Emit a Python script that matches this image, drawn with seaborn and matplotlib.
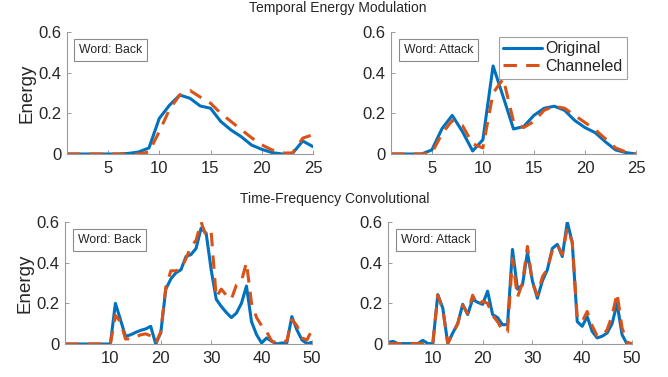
import numpy as np
import pandas as pd
import matplotlib
matplotlib.use("Agg")
import matplotlib.pyplot as plt
import seaborn as sns

# ---------------- data ----------------
t_short = list(range(1, 26))
t_long = list(range(1, 51))

back_temporal_orig = [0, 0, 0, 0, 0, 0, 0.003, 0.01, 0.03, 0.175, 0.24, 0.29, 0.274, 0.236, 0.225,
                      0.16, 0.118, 0.085, 0.044, 0.023, 0.007, 0.0, 0.003, 0.064, 0.036]
back_temporal_chan = [0, 0, 0, 0, 0, 0, 0, 0, 0.01, 0.11, 0.22, 0.29, 0.312, 0.28, 0.25,
                      0.2, 0.16, 0.12, 0.08, 0.045, 0.02, 0.005, 0.005, 0.078, 0.095]

attack_temporal_orig = [0, 0, 0, 0, 0.02, 0.125, 0.19, 0.11, 0.015, 0.07, 0.433, 0.28, 0.123, 0.135, 0.19,
                        0.225, 0.235, 0.215, 0.165, 0.13, 0.105, 0.06, 0.02, 0.007, 0.0]
attack_temporal_chan = [0, 0, 0, 0, 0.005, 0.1, 0.165, 0.14, 0.05, 0.03, 0.30, 0.37, 0.16, 0.13, 0.16,
                        0.215, 0.235, 0.225, 0.19, 0.155, 0.12, 0.075, 0.03, 0.01, 0.0]

back_tf_orig = [0, 0, 0, 0, 0, 0, 0, 0, 0, 0,
                0.2, 0.12, 0.038, 0.045, 0.057, 0.067, 0.074, 0.087, 0.0, 0.055,
                0.27, 0.32, 0.35, 0.365, 0.43, 0.44, 0.47, 0.57, 0.545, 0.365,
                0.22, 0.185, 0.155, 0.13, 0.152, 0.2, 0.285, 0.11, 0.046, 0.005,
                0.03, 0.013, 0.0, 0.005, 0.005, 0.135, 0.07, 0.02, 0.002, 0.008]
back_tf_chan = [0, 0, 0, 0, 0, 0, 0, 0, 0, 0,
                0.14, 0.11, 0.025, 0.025, 0.035, 0.045, 0.05, 0.04, 0.005, 0.06,
                0.28, 0.36, 0.36, 0.37, 0.42, 0.48, 0.51, 0.6, 0.53, 0.55,
                0.23, 0.27, 0.24, 0.22, 0.29, 0.31, 0.4, 0.2, 0.13, 0.09,
                0.06, 0.015, 0.005, 0.01, 0.015, 0.12, 0.09, 0.03, 0.02, 0.07]

attack_tf_orig = [0.008, 0.013, 0.002, 0.002, 0.002, 0.003, 0.002, 0.018, 0.002, 0.002,
                  0.243, 0.177, 0.002, 0.054, 0.1, 0.195, 0.145, 0.22, 0.205, 0.195,
                  0.26, 0.145, 0.13, 0.095, 0.095, 0.465, 0.27, 0.29, 0.45, 0.31,
                  0.225, 0.31, 0.365, 0.47, 0.49, 0.43, 0.6, 0.5, 0.11, 0.087,
                  0.135, 0.062, 0.03, 0.038, 0.054, 0.1, 0.2, 0.046, 0.0, 0.0]
attack_tf_chan = [0.002, 0.002, 0.002, 0.002, 0.002, 0.002, 0.002, 0.002, 0.002, 0.002,
                  0.24, 0.17, 0.005, 0.05, 0.1, 0.19, 0.15, 0.24, 0.19, 0.21,
                  0.2, 0.14, 0.11, 0.065, 0.06, 0.42, 0.23, 0.3, 0.48, 0.3,
                  0.24, 0.33, 0.37, 0.46, 0.49, 0.44, 0.57, 0.5, 0.13, 0.11,
                  0.16, 0.09, 0.04, 0.04, 0.07, 0.14, 0.25, 0.08, 0.01, 0.0]

series_names = ["Original", "Channeled"]
word_labels = ["Word: Back", "Word: Attack", "Word: Back", "Word: Attack"]
row_titles = ["Temporal Energy Modulation", "Time-Frequency Convolutional"]
y_ticks = [0, 0.2, 0.4, 0.6]
y_ticklabels = ["0", "0.2", "0.4", "0.6"]
x_ticks_short = [5, 10, 15, 20, 25]
x_ticks_long = [10, 20, 30, 40, 50]

# ---------------- style ----------------
sns.set_style("ticks")
plt.rcParams["font.family"] = ["Liberation Sans", "DejaVu Sans"]

BLUE = "#0072BD"
ORANGE = "#D95319"
SPINE = "#9a9a9a"
TXT = "#262626"

fig = plt.figure(figsize=(6.68, 3.77), dpi=100)
W, H = 668.0, 377.0

# axes pixel boxes: left, top, right, bottom
boxes = [(67, 32, 313, 154), (391, 32, 636, 154), (65, 222, 312, 344), (388, 222, 632, 344)]
panels = [
    (t_short, back_temporal_orig, back_temporal_chan, x_ticks_short, (1, 25)),
    (t_short, attack_temporal_orig, attack_temporal_chan, x_ticks_short, (1, 25)),
    (t_long, back_tf_orig, back_tf_chan, x_ticks_long, (1, 50)),
    (t_long, attack_tf_orig, attack_tf_chan, x_ticks_long, (1, 50)),
]
word_text_x = [0.049, 0.053, 0.053, 0.053]

axes = []
for i, (box, (t, yo, yc, xt, xl)) in enumerate(zip(boxes, panels)):
    l, tp, r, b = box
    ax = fig.add_axes([l / W, 1 - b / H, (r - l) / W, (b - tp) / H])
    axes.append(ax)
    df = pd.DataFrame({
        "t": list(t) * 2,
        "energy": list(yo) + list(yc),
        "series": [series_names[0]] * len(t) + [series_names[1]] * len(t),
    })
    sns.lineplot(data=df[df.series == "Original"], x="t", y="energy", ax=ax,
                 color=BLUE, lw=2.2, label="Original", legend=False)
    sns.lineplot(data=df[df.series == "Channeled"], x="t", y="energy", ax=ax,
                 color=ORANGE, lw=2.2, label="Channeled", legend=False,
                 linestyle=(0, (4.4, 3.0)))
    ax.set_xlim(*xl)
    ax.set_ylim(0, 0.6)
    ax.set_xticks(xt)
    ax.set_yticks(y_ticks)
    ax.set_yticklabels(y_ticklabels)
    ax.set_xlabel("")
    if i % 2 == 0:
        ax.set_ylabel("Energy", fontsize=13.5, color=TXT, labelpad=2)
    else:
        ax.set_ylabel("")
    for s in ["top", "right"]:
        ax.spines[s].set_visible(False)
    for s in ["left", "bottom"]:
        ax.spines[s].set_color(SPINE)
        ax.spines[s].set_linewidth(0.8)
    ax.tick_params(axis="both", direction="in", length=3, width=0.7, color=SPINE,
                   labelsize=12, labelcolor=TXT)
    ax.tick_params(axis="x", pad=5)
    ax.tick_params(axis="y", pad=4)
    ax.text(word_text_x[i], 0.852, word_labels[i], transform=ax.transAxes,
            fontsize=8.8, color=TXT, va="center", ha="left",
            bbox=dict(boxstyle="square,pad=0.4", fc="white", ec="#8a8a8a", lw=0.8))

leg = axes[1].legend(loc="upper right", bbox_to_anchor=(0.963, 0.962), borderaxespad=0,
                     fontsize=11.5, frameon=True, fancybox=False, handlelength=2.4,
                     handletextpad=0.2, borderpad=0.3, labelspacing=0.15)
leg.get_frame().set_edgecolor("#8a8a8a")
leg.get_frame().set_linewidth(0.8)
for txt in leg.get_texts():
    txt.set_color(TXT)

fig.text(338 / W, 1 - 8 / H, row_titles[0], ha="center", va="center", fontsize=10, color=TXT)
fig.text(335 / W, 1 - 199 / H, row_titles[1], ha="center", va="center", fontsize=10, color=TXT)

fig.savefig("out.png", dpi=100)
